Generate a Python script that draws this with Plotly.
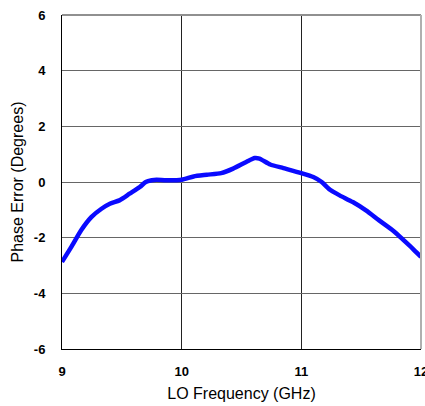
import plotly.graph_objects as go

freq_ghz = [9.0, 9.078, 9.16, 9.245, 9.33, 9.40, 9.48, 9.565, 9.65, 9.70, 9.75, 9.79,
            9.87, 10.0, 10.1, 10.21, 10.33, 10.43, 10.54, 10.61, 10.65, 10.74, 10.85,
            11.0, 11.10, 11.17, 11.24, 11.32, 11.43, 11.54, 11.65, 11.77, 11.85, 11.93, 12.0]
phase_err = [-2.87, -2.33, -1.73, -1.26, -0.96, -0.78, -0.66, -0.42, -0.18, 0.0, 0.06, 0.08,
             0.06, 0.08, 0.2, 0.26, 0.32, 0.48, 0.72, 0.86, 0.84, 0.63, 0.50,
             0.32, 0.18, 0.0, -0.28, -0.48, -0.72, -1.02, -1.38, -1.76, -2.07, -2.39, -2.69]

x_ticks = [9, 10, 11, 12]
x_ticktext = ["9", "10", "11", "12"]
y_ticks = [-6, -4, -2, 0, 2, 4, 6]
y_ticktext = ["-6", "-4", "-2", "0", "2", "4", "6"]

fig = go.Figure()
fig.add_trace(go.Scatter(x=freq_ghz, y=phase_err, mode="lines",
                         line=dict(color="#0a0aff", width=4.5, shape="spline", smoothing=0.6),
                         hoverinfo="skip", showlegend=False))

fig.update_layout(
    width=425, height=406,
    margin=dict(l=62, r=4, t=15, b=57, autoexpand=False),
    paper_bgcolor="white", plot_bgcolor="white",
    font=dict(family="Liberation Sans, Arial, sans-serif", color="black"),
    showlegend=False,
    xaxis=dict(range=[9, 12], tickvals=x_ticks, ticktext=x_ticktext,
               showgrid=True, gridcolor="#222222", gridwidth=1,
               showline=True, linecolor="black", linewidth=1, automargin=False,
               zeroline=False, ticks="", ticklabelstandoff=10, ticklabeloverflow="allow",
               tickfont=dict(size=13, family="Liberation Sans, Arial, sans-serif", weight="bold"),
               title=dict(text="LO Frequency (GHz)", font=dict(size=16), standoff=10)),
    yaxis=dict(range=[-6, 6], tickvals=y_ticks, ticktext=y_ticktext,
               showgrid=True, gridcolor="#666666", gridwidth=1,
               showline=True, linecolor="black", linewidth=1, automargin=False,
               zeroline=False, ticks="", ticklabelstandoff=13,
               tickfont=dict(size=13, family="Liberation Sans, Arial, sans-serif", weight="bold"),
               title=dict(text="Phase Error (Degrees)", font=dict(size=16), standoff=6)),
    shapes=[
        dict(type="line", xref="paper", yref="paper", x0=0, x1=1, y0=1, y1=1,
             line=dict(color="#909090", width=2)),
        dict(type="line", xref="paper", yref="paper", x0=1, x1=1, y0=0, y1=1,
             line=dict(color="#b0b0b0", width=2)),
    ],
)

fig.write_html("out.html")
